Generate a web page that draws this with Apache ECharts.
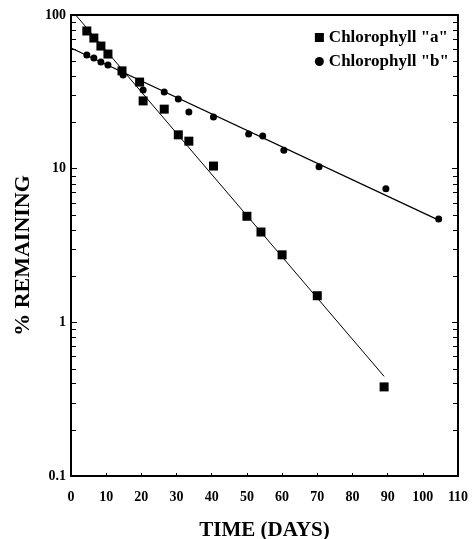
<!DOCTYPE html>
<html>
<head>
<meta charset="utf-8">
<script src="https://cdn.jsdelivr.net/npm/echarts@6/dist/echarts.min.js"></script>
<style>
  html, body { margin: 0; padding: 0; background: #fff; }
  #chart { width: 472px; height: 539px; }
</style>
</head>
<body>
<div id="chart"></div>
<script>
// 数据：叶绿素 a / b 残留百分比
const daysA = [4.5, 6.5, 8.5, 10.5, 14.5, 19.5, 20.5, 26.5, 30.5, 33.5, 40.5, 50, 54, 60, 70, 89]
const valuesA = [78.7, 70.8, 62.8, 55.7, 43.3, 36.6, 27.6, 24.4, 16.6, 15.1, 10.4, 4.9, 3.87, 2.75, 1.49, 0.38]
const daysB = [4.5, 6.5, 8.5, 10.5, 14.8, 20.5, 26.5, 30.5, 33.5, 40.5, 50.5, 54.5, 60.5, 70.5, 89.5, 104.5]
const valuesB = [55.0, 52.5, 49.4, 47.3, 40.7, 32.5, 31.6, 28.4, 23.4, 21.7, 16.8, 16.3, 13.2, 10.3, 7.4, 4.7]
// 拟合直线两端
const fitA = [[0, 108.6], [89, 0.445]]
const fitB = [[0, 61], [104.5, 4.63]]
// 刻度
const xTicks = [0, 10, 20, 30, 40, 50, 60, 70, 80, 90, 100, 110]
const decades = [0.1, 1, 10]
const minorSteps = [2, 3, 4, 5, 6, 7, 8, 9]

const minorTicks = []
decades.forEach(d => minorSteps.forEach(m => minorTicks.push(+(d * m).toPrecision(3))))

const font = "'Liberation Serif', 'Times New Roman', serif"

const chart = echarts.init(document.getElementById('chart'))

const yAxisBase = {
  type: 'log',
  logBase: 10,
  min: 0.1,
  max: 100,
  axisLine: { show: true, lineStyle: { color: '#000', width: 2 } },
  axisTick: { show: true, inside: true, length: 6, lineStyle: { color: '#000', width: 1 } },
  splitLine: { show: false },
  minorTick: { show: false }
}

const options = {
  backgroundColor: '#fff',
  animation: false,
  grid: {
    left: 71, right: 14, top: 15, bottom: 63,
    outerBoundsMode: 'none',
    containLabel: false,
    show: true, borderColor: '#000', borderWidth: 2
  },
  legend: {
    orient: 'vertical',
    right: 18,
    top: 24,
    itemGap: 7,
    itemWidth: 9,
    itemHeight: 9,
    textStyle: { fontFamily: font, fontWeight: 'bold', fontSize: 17, color: '#000' },
    data: [
      { name: 'Chlorophyll "a"', icon: 'rect' },
      { name: 'Chlorophyll "b"', icon: 'circle' }
    ]
  },
  xAxis: {
    type: 'value',
    min: 0,
    max: 110,
    interval: 10,
    name: 'TIME (DAYS)',
    nameLocation: 'middle',
    nameGap: 44,
    nameTextStyle: { fontFamily: font, fontWeight: 'bold', fontSize: 21, color: '#000' },
    axisLine: { show: true, lineStyle: { color: '#000', width: 2 } },
    axisTick: { show: true, inside: true, length: 3, lineStyle: { color: '#000' } },
    axisLabel: {
      margin: 14,
      fontFamily: font, fontWeight: 'bold', fontSize: 14, color: '#000',
      formatter: v => xTicks.includes(v) ? String(v) : ''
    },
    splitLine: { show: false }
  },
  yAxis: [
    Object.assign({}, yAxisBase, {
      position: 'left',
      name: '% REMAINING',
      nameLocation: 'middle',
      nameGap: 36,
      nameTextStyle: { fontFamily: font, fontWeight: 'bold', fontSize: 22, color: '#000', padding: [0, 20, 0, 0] },
      axisLabel: {
        margin: 5,
        fontFamily: font, fontWeight: 'bold', fontSize: 14, color: '#000',
        formatter: v => (v < 1 ? v.toFixed(1) : String(Math.round(v)))
      }
    }),
    Object.assign({}, yAxisBase, {
      position: 'right',
      axisLabel: { show: false }
    })
  ],
  series: [
    {
      name: 'Chlorophyll "a"',
      type: 'scatter',
      symbol: 'rect',
      symbolSize: 9,
      itemStyle: { color: '#000', opacity: 1 },
      data: daysA.map((d, i) => [d, valuesA[i]]),
      z: 5
    },
    {
      name: 'Chlorophyll "b"',
      type: 'scatter',
      symbol: 'circle',
      symbolSize: 7,
      itemStyle: { color: '#000', opacity: 1 },
      data: daysB.map((d, i) => [d, valuesB[i]]),
      z: 5
    },
    {
      name: 'fitA',
      type: 'line',
      data: fitA,
      symbol: 'none',
      clip: true,
      lineStyle: { color: '#000', width: 1 },
      silent: true
    },
    {
      name: 'fitB',
      type: 'line',
      data: fitB,
      symbol: 'none',
      clip: true,
      lineStyle: { color: '#000', width: 1.3 },
      silent: true
    },
    {
      // 对数次刻度（左右两侧，朝内）
      name: 'minor',
      type: 'custom',
      silent: true,
      clip: false,
      data: minorTicks.map(v => [0, v]),
      renderItem: (params, api) => {
        const cs = params.coordSys
        const p = api.coord([0, api.value(1)])
        const y = Math.round(p[1]) + 0.5
        const style = { stroke: '#000', lineWidth: 1 }
        return {
          type: 'group',
          children: [
            { type: 'line', shape: { x1: cs.x, y1: y, x2: cs.x + 5, y2: y }, style },
            { type: 'line', shape: { x1: cs.x + cs.width, y1: y, x2: cs.x + cs.width - 5, y2: y }, style }
          ]
        }
      }
    }
  ]
}

chart.setOption(options)
</script>
</body>
</html>
